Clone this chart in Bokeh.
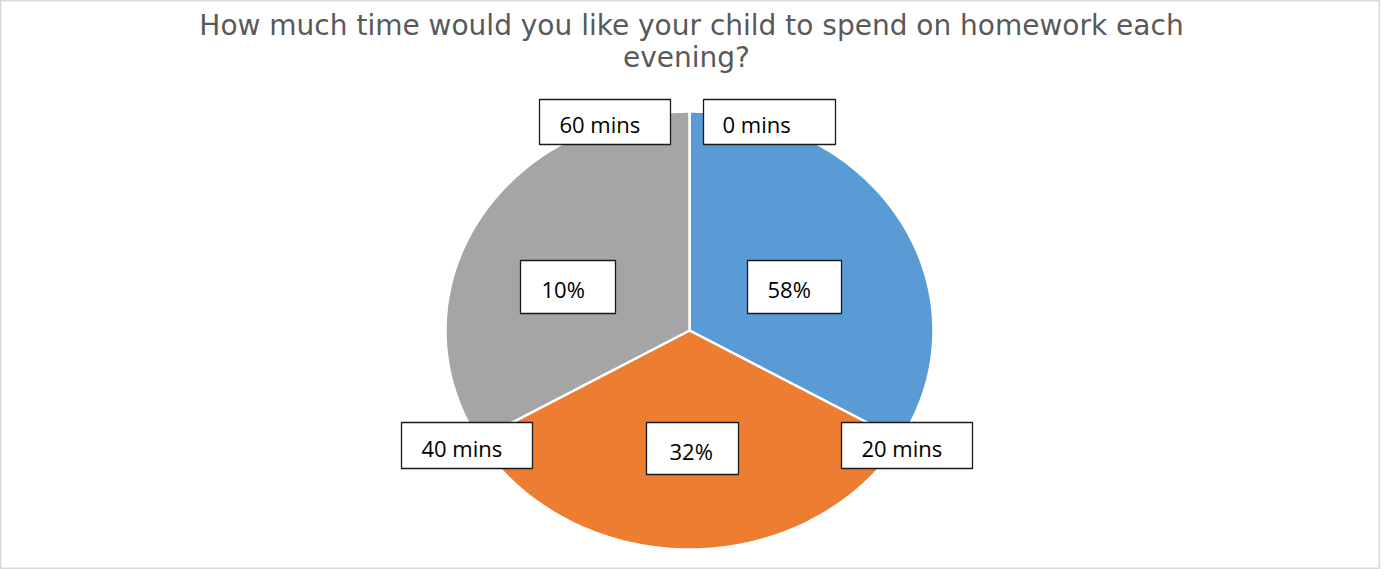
import numpy as np
from bokeh.plotting import figure
from bokeh.models import Range1d, ColumnDataSource
from bokeh.embed import file_html
from bokeh.resources import INLINE
from bokeh.core.properties import value

# ---- data ----
title_lines = ["How much time would you like your child to spend on homework each", "evening?"]
category_labels = ["0 mins", "20 mins", "40 mins", "60 mins"]
percent_labels = ["58%", "32%", "10%"]
# the drawn slices in the reference are three equal sectors
slice_values = [1, 1, 1]
slice_colors = ["#5B9BD5", "#ED7D31", "#A5A5A5"]

# ---- layout ----
W, H = 1380, 569
CX, CY = 689, 330      # pie centre in figure pixels
RX, RY = 244, 219      # pie radii in pixels (slightly elliptical)
OFF = 8                # page margin


def dx(page_x):
    return (page_x - OFF - CX) / RX


def dy(page_y):
    return (CY - (page_y - OFF)) / RY


p = figure(width=W, height=H, output_backend="svg", toolbar_location=None,
           x_range=Range1d(-CX / RX, (W - CX) / RX),
           y_range=Range1d(-(H - CY) / RY, CY / RY),
           min_border=0, min_border_left=0, min_border_right=0,
           min_border_top=0, min_border_bottom=0)
p.axis.visible = False
p.grid.visible = False
p.outline_line_color = "#d9d9d9"
p.outline_line_width = 2
p.background_fill_color = "white"
p.border_fill_color = "white"

# pie slices, clockwise from the top
vals = np.array(slice_values, dtype=float)
fr = np.concatenate([[0], np.cumsum(vals) / vals.sum()])
xs, ys = [], []
for i in range(len(vals)):
    a0 = np.pi / 2 - 2 * np.pi * fr[i]
    a1 = np.pi / 2 - 2 * np.pi * fr[i + 1]
    t = np.linspace(a0, a1, 120)
    xs.append(list(np.concatenate([[0], np.cos(t), [0]])))
    ys.append(list(np.concatenate([[0], np.sin(t), [0]])))
p.patches(xs=xs, ys=ys, fill_color=slice_colors, line_color="white", line_width=2.5)

# label boxes: (left, right, top, bottom, text_left) in page pixels
cat_pos = {
    "0 mins": (711, 843, 107, 152, 730),
    "20 mins": (849, 980, 430, 476, 869),
    "40 mins": (409, 540, 430, 476, 429),
    "60 mins": (547, 678, 107, 152, 567),
}
pct_pos = [
    (755, 849, 268, 321, 775),
    (654, 746, 430, 482, 677),
    (528, 623, 268, 321, 549),
]
texts = list(category_labels) + list(percent_labels)
pos = [cat_pos[c] for c in category_labels] + pct_pos
src = ColumnDataSource(dict(
    x=[dx((l + r) / 2) for (l, r, t, b, tl) in pos],
    y=[dy((t + b) / 2) for (l, r, t, b, tl) in pos],
    w=[r - l for (l, r, t, b, tl) in pos],
    h=[b - t for (l, r, t, b, tl) in pos],
    tx=[dx(tl) for (l, r, t, b, tl) in pos],
    ty=[dy((t + b) / 2 + 2) for (l, r, t, b, tl) in pos],
    text=texts,
))
p.rect(x="x", y="y", width="w", height="h", width_units="screen", height_units="screen",
       source=src, fill_color="white", line_color="#1a1a1a", line_width=1.3)
p.text(x="tx", y="ty", text="text", source=src, text_font=value("Open Sans"),
       text_font_size="22px", text_color="black", text_align="left", text_baseline="middle")

# title
p.text(x=[dx(699), dx(694)], y=[dy(33), dy(65)], text=title_lines,
       text_font=value("DejaVu Sans"), text_font_size="28px", text_color="#595959",
       text_align="center", text_baseline="middle")

open("out.html", "w").write(file_html(p, INLINE))
